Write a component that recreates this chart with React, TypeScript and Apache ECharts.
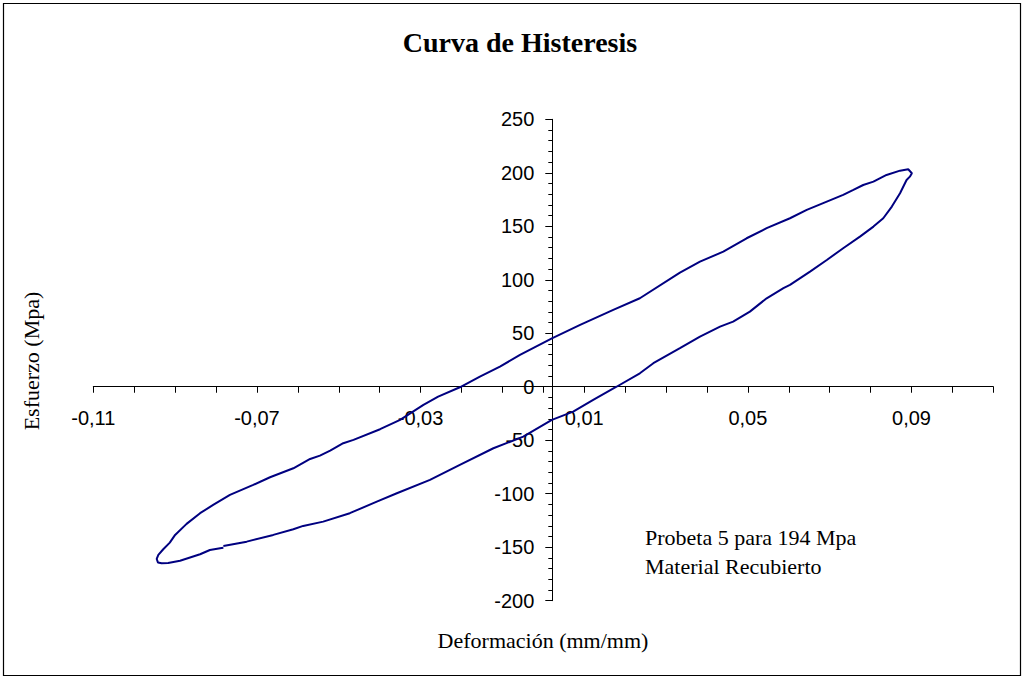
import React, { useEffect, useRef } from "react";
import * as echarts from "echarts";

// Deformación (mm/mm) — closed hysteresis loop, traced in drawing order
const strain: number[] = [
  -0.0782, -0.0725, -0.066, -0.0611, -0.0587, -0.0538, -0.0473, -0.0407, -0.0358, -0.0277,
  -0.0204, -0.0122, -0.0049, 0.0021, 0.0073, 0.0122, 0.0179, 0.0236, 0.0269, 0.0334,
  0.0383, 0.0432, 0.0464, 0.0505, 0.0546, 0.0587, 0.0603, 0.0652, 0.0693, 0.0733,
  0.0774, 0.0807, 0.0831, 0.0852, 0.0872, 0.0888, 0.0896, 0.0901, 0.0892,
  0.0872, 0.0839, 0.0807, 0.0782, 0.0758, 0.0733, 0.0693, 0.0644, 0.0603, 0.0546,
  0.0497, 0.044, 0.0383, 0.0334, 0.0236, 0.0171, 0.009, 0.0021, -0.0057, -0.0106,
  -0.0155, -0.0204, -0.0257, -0.0293, -0.035, -0.0399, -0.0464, -0.0489, -0.0521, -0.0546,
  -0.057, -0.0611, -0.0668, -0.0709, -0.0766, -0.0807, -0.0839, -0.0872, -0.09, -0.0913,
  -0.0929, -0.0941, -0.0945, -0.0942, -0.0933, -0.0917, -0.0888, -0.0839, -0.0815, -0.079,
  -0.0782,
];

// Esfuerzo (Mpa)
const stress: number[] = [
  -148.8, -144.8, -138.5, -133.2, -130.1, -126.1, -118.2, -107.4, -99.6, -87.1,
  -73.1, -57.5, -46.6, -31.0, -23.3, -12.3, 0.0, 12.6, 22.0, 36.0,
  46.8, 56.2, 60.9, 70.2, 82.7, 92.1, 95.2, 107.6, 118.5, 129.5,
  140.3, 149.7, 157.5, 168.4, 180.9, 193.3, 196.4, 199.6, 203.3,
  202.0, 198.0, 191.7, 188.6, 184.0, 179.3, 173.0, 165.3, 157.5, 148.2,
  138.8, 126.3, 116.9, 106.7, 82.7, 71.8, 57.8, 45.3, 29.7, 18.8,
  9.4, -0.5, -9.3, -17.0, -31.0, -39.7, -49.7, -52.8, -59.7, -64.4,
  -67.5, -76.2, -84.6, -91.8, -101.1, -110.5, -118.2, -128.2, -138.5, -145.7,
  -151.9, -157.2, -161.0, -164.2, -165.0, -164.7, -162.6, -156.6, -152.6, -151.0,
  -150.6,
];

const xMin = -0.11;
const xMax = 0.11;
const xStep = 0.01;
const xLabelEvery = 4;
const yMin = -200;
const yMax = 250;
const yStep = 50;

const titleText = "Curva de Histeresis";
const xTitle = "Deformación (mm/mm)";
const yTitle = "Esfuerzo (Mpa)";
const noteLines = ["Probeta 5 para 194 Mpa", "Material Recubierto"];

const SERIF = "'Times New Roman', 'Liberation Serif', serif";
const SANS = "Arial, 'Liberation Sans', sans-serif";

export default function App() {
  const ref = useRef<HTMLDivElement>(null);

  useEffect(() => {
    if (!ref.current) return;
    const chart = echarts.init(ref.current, undefined, { renderer: "svg" });
    const data = strain.map((x, i) => [x, stress[i]]);
    const gridLeft = 93.3;
    const gridRight = 30.7;
    const gridTop = 119.3;
    const gridBottom = 78.3;
    const plotW = 1024 - gridLeft - gridRight;
    const plotH = 679 - gridTop - gridBottom;
    // the vertical axis crosses the horizontal one slightly right of 0
    const yCross = 0.0022;
    const yAxisPx = ((yCross - xMin) / (xMax - xMin)) * plotW;
    // the horizontal axis crosses the vertical one at 0
    const xAxisPx = ((0 - yMin) / (yMax - yMin)) * plotH;

    chart.setOption({
      animation: false,
      backgroundColor: "#ffffff",
      grid: { left: gridLeft, right: gridRight, top: gridTop, bottom: gridBottom, containLabel: false },
      xAxis: {
        type: "value",
        position: "bottom",
        min: xMin,
        max: xMax,
        interval: xStep,
        offset: -xAxisPx,
        splitLine: { show: false },
        axisLine: { show: true, onZero: false, lineStyle: { color: "#000", width: 1 } },
        axisTick: { show: true, inside: false, length: 6, lineStyle: { color: "#000" } },
        axisLabel: {
          show: true,
          margin: 21,
          color: "#000",
          fontFamily: SANS,
          fontSize: 20,
          showMinLabel: true,
          showMaxLabel: true,
          formatter: (v: number) => {
            const k = Math.round((v - xMin) / xStep);
            if (k % xLabelEvery !== 0) return "";
            return v.toFixed(2).replace(".", ",");
          },
        },
      },
      yAxis: {
        type: "value",
        position: "left",
        min: yMin,
        max: yMax,
        interval: yStep,
        offset: -yAxisPx,
        splitLine: { show: false },
        axisLine: { show: true, onZero: false, lineStyle: { color: "#000", width: 1 } },
        axisTick: { show: true, inside: false, length: 7, lineStyle: { color: "#000" } },
        minorTick: { show: true, splitNumber: 5, length: 4, lineStyle: { color: "#000" } },
        axisLabel: {
          show: true,
          margin: 18,
          color: "#000",
          fontFamily: SANS,
          fontSize: 20,
        },
      },
      series: [
        {
          type: "line",
          data,
          showSymbol: false,
          symbol: "none",
          smooth: false,
          lineStyle: { color: "#000080", width: 2 },
        },
      ],
      graphic: [
        {
          type: "rect",
          shape: { x: 3.5, y: 3.5, width: 1017, height: 672 },
          style: { fill: "none", stroke: "#000", lineWidth: 1.2 },
          silent: true,
        },
        {
          type: "text",
          x: 520,
          y: 42,
          style: {
            text: titleText,
            font: `bold 28px ${SERIF}`,
            fill: "#000",
            align: "center",
            verticalAlign: "middle",
          },
        },
        {
          type: "text",
          x: 543,
          y: 640,
          style: {
            text: xTitle,
            font: `22px ${SERIF}`,
            fill: "#000",
            align: "center",
            verticalAlign: "middle",
          },
        },
        {
          type: "text",
          x: 31,
          y: 361,
          rotation: Math.PI / 2,
          style: {
            text: yTitle,
            font: `22px ${SERIF}`,
            fill: "#000",
            align: "center",
            verticalAlign: "middle",
          },
        },
        {
          type: "text",
          x: 645,
          y: 537,
          style: {
            text: noteLines[0],
            font: `22px ${SERIF}`,
            fill: "#000",
            align: "left",
            verticalAlign: "middle",
          },
        },
        {
          type: "text",
          x: 645,
          y: 566,
          style: {
            text: noteLines[1],
            font: `22px ${SERIF}`,
            fill: "#000",
            align: "left",
            verticalAlign: "middle",
          },
        },
      ],
    });

    return () => chart.dispose();
  }, []);

  return (
    <div
      ref={ref}
      style={{ position: "fixed", left: 0, top: 0, width: 1024, height: 679, background: "#fff" }}
    />
  );
}
